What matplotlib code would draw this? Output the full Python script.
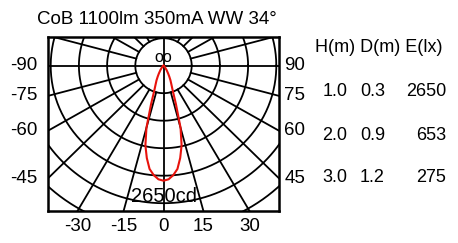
import numpy as np
import matplotlib.pyplot as plt

plt.rcParams['font.family'] = ['Liberation Sans', 'DejaVu Sans']

title = "CoB 1100lm 350mA WW 34°"
peak_label = "2650cd"
centre_label = "oo"

# luminous intensity curve (half, symmetric)
beam_deg = [0, 2.5, 5, 7.5, 10, 12.5, 15, 17.5, 20, 22.5, 25, 27.5, 30, 35, 40, 50, 60, 90]
beam_cd = [2650, 2620, 2530, 2400, 2160, 1880, 1480, 930, 600, 460, 370, 280, 210, 120, 60, 20, 5, 0]

left_ticks = [-90, -75, -60, -45]
right_ticks = [90, 75, 60, 45]
bottom_ticks = [-30, -15, 0, 15, 30]

table_head = "H(m) D(m) E(lx)"
heights = [1.0, 2.0, 3.0]
diameters = [0.3, 0.9, 1.2]
lux = [2650, 653, 275]

W, H = 458, 243
fig = plt.figure(figsize=(W / 100, H / 100), dpi=100)

def fx(x):
    return x / W

def fy(y):
    return 1 - y / H

# frame in pixels, centre of diagram
left, right, top, bottom = 48, 279.3, 36.7, 210.7
cx, cy = 163.5, 65.7
xmin, xmax = left - cx, right - cx
ymin, ymax = -(bottom - cy), cy - top

ax = fig.add_axes([fx(left), fy(bottom), (right - left) / W, (bottom - top) / H])
ax.set_xlim(xmin, xmax)
ax.set_ylim(ymin, ymax)
ax.set_xticks([])
ax.set_yticks([])
for s in ax.spines.values():
    s.set_linewidth(1.8)

sx, sy = 28.2, 27.5   # ring spacing
lw = 1.3

t = np.linspace(0, 2 * np.pi, 500)
for k in range(1, 9):
    ax.plot(k * sx * np.cos(t), k * sy * np.sin(t), color='black', lw=lw)

for a in range(0, 360, 15):
    r0 = 0 if a % 90 == 0 else 1
    ar = np.radians(a)
    r = np.array([r0, 12])
    ax.plot(r * np.sin(ar) * sx, -r * np.cos(ar) * sy, color='black', lw=lw)

# intensity curve
th = np.radians(np.array(beam_deg))
u = np.array(beam_cd) / max(beam_cd) * (115 / sy)
th = np.concatenate([-th[::-1], th[1:]])
u = np.concatenate([u[::-1], u[1:]])
ax.plot(u * np.sin(th) * sx, -u * np.cos(th) * sy, color='#e8120c', lw=1.5)

ax.text(0, 1.2, centre_label, ha='center', va='bottom', fontsize=11.5)
ax.text(0, -131, peak_label, ha='center', va='center', fontsize=14.5)

# angle labels on the frame
for lab in left_ticks:
    a = np.radians(-lab)
    y = -np.cos(a) * sy * xmin / (-np.sin(a) * sx)
    ax.text(xmin - 11, y, str(lab), ha='right', va='center', fontsize=13.5, clip_on=False)
for lab in right_ticks:
    a = np.radians(lab)
    y = -np.cos(a) * sy * xmax / (np.sin(a) * sx)
    ax.text(xmax + 5, y, str(lab), ha='left', va='center', fontsize=13.5, clip_on=False)
for lab in bottom_ticks:
    a = np.radians(lab)
    x = np.sin(a) * sx * ymin / (-np.cos(a) * sy)
    ax.text(x, ymin - 16, str(lab), ha='center', va='center', fontsize=13.5, clip_on=False)

fig.text(fx(156.4), fy(19), title, ha='center', va='center', fontsize=13.5)

fig.text(fx(315), fy(48), table_head, ha='left', va='center', fontsize=13)
row_y = [91, 135, 178]
for h, d, e, y in zip(heights, diameters, lux, row_y):
    fig.text(fx(335), fy(y), f"{h:.1f}", ha='center', va='center', fontsize=13)
    fig.text(fx(372.5), fy(y), f"{d:.1f}", ha='center', va='center', fontsize=13)
    fig.text(fx(446), fy(y), str(e), ha='right', va='center', fontsize=13)

fig.savefig('out.png', dpi=100)
